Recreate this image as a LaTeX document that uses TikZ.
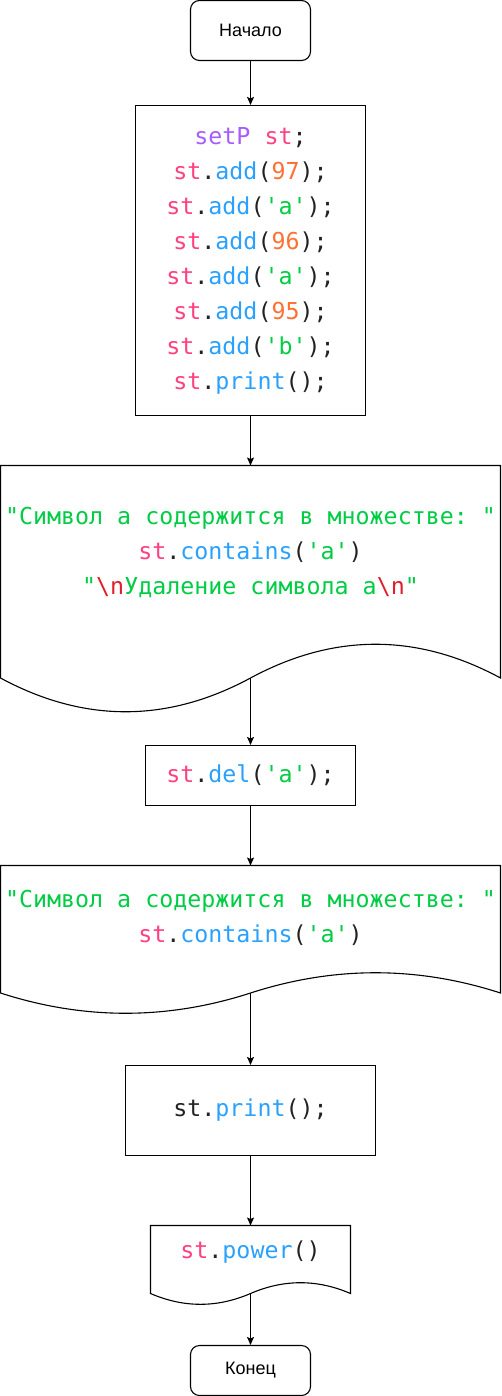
\documentclass[tikz,border=0pt]{standalone}
\usepackage{fontspec}
\setmainfont{Liberation Sans}
\setmonofont{DejaVu Sans Mono}
\usetikzlibrary{arrows.meta}

% syntax colours
\definecolor{cpink}{HTML}{FF4081}
\definecolor{cblue}{HTML}{2AA1FF}
\definecolor{corange}{HTML}{FF7033}
\definecolor{cgreen}{HTML}{00CC44}
\definecolor{cpurple}{HTML}{A85CFF}
\definecolor{cred}{HTML}{E0202C}
\definecolor{cdark}{HTML}{222222}

\newcommand{\kST}{\textcolor{cpink}{st}}
\newcommand{\kFN}[1]{\textcolor{cblue}{#1}}
\newcommand{\kNUM}[1]{\textcolor{corange}{#1}}
\newcommand{\kSTR}[1]{\textcolor{cgreen}{#1}}
\newcommand{\kESC}{\textcolor{cred}{\textbackslash n}}

% document (wavy-bottom) outline: x0, y0, width, height
\newcommand{\docshape}[4]{%
  \draw[line]
    (#1,#2) -- ({#1+#3},#2) -- ({#1+#3},{#2+0.85*#4})
    .. controls ({#1+#3*5/6},{#2+0.67*#4}) and ({#1+#3*4/6},{#2+0.67*#4}) .. ({#1+#3/2},{#2+0.85*#4})
    .. controls ({#1+#3/3},{#2+1.03*#4}) and ({#1+#3/6},{#2+1.03*#4}) .. (#1,{#2+0.85*#4})
    -- cycle;}

\begin{document}
\begin{tikzpicture}[x=1pt,y=-1pt,
  line/.style={draw=black,line width=1.1pt},
  terminal/.style={line,rounded corners=9pt,inner sep=0pt,
    font={\fontsize{18}{21}\selectfont}},
  procbox/.style={line,inner sep=0pt,align=center,
    font={\ttfamily\fontsize{23.3}{35}\selectfont}},
  codetext/.style={inner sep=0pt,align=center,
    font={\ttfamily\fontsize{23.3}{35}\selectfont}},
  arr/.style={line,-{Stealth[length=8pt,width=7pt,inset=1.5pt]}}]

\useasboundingbox (0,0) rectangle (501,1396);

% start
\node[terminal,minimum width=120pt,minimum height=60pt] (start) at (250.5,30.5) {Начало};

% declarations
\node[procbox,minimum width=230pt,minimum height=310pt,text=cdark] (init) at (250.5,260.5) {%
\textcolor{cpurple}{setP} \kST;\\
\kST.\kFN{add}(\kNUM{97});\\
\kST.\kFN{add}(\kSTR{'a'});\\
\kST.\kFN{add}(\kNUM{96});\\
\kST.\kFN{add}(\kSTR{'a'});\\
\kST.\kFN{add}(\kNUM{95});\\
\kST.\kFN{add}(\kSTR{'b'});\\
\kST.\kFN{print}();};

% first output
\docshape{0.5}{465.5}{500}{250}
\node[codetext,text=cdark] (out1) at (250.5,552) {%
\kSTR{"Символ а содержится в множестве: "}\\
\kST.\kFN{contains}(\kSTR{'a'})\\
\kSTR{"}\kESC\kSTR{Удаление символа а}\kESC\kSTR{"}};
\coordinate (out1end) at (250.5,678);

% delete
\node[procbox,minimum width=210pt,minimum height=60pt,text=cdark] (del) at (250.5,775.5) {%
\kST.\kFN{del}(\kSTR{'a'});};

% second output
\docshape{0.5}{865.5}{500}{150}
\node[codetext,text=cdark] (out2) at (250.5,917.5) {%
\kSTR{"Символ а содержится в множестве: "}\\
\kST.\kFN{contains}(\kSTR{'a'})};
\coordinate (out2end) at (250.5,993);

% print
\node[procbox,minimum width=250pt,minimum height=90pt,text=cdark] (prt) at (250.5,1110.5) {%
st.\kFN{print}();};

% power output
\docshape{150.5}{1225.5}{200}{80}
\node[codetext,text=cdark] (out3) at (250.5,1252) {%
\kST.\kFN{power}()};
\coordinate (out3end) at (250.5,1293.5);

% end
\node[terminal,minimum width=120pt,minimum height=50pt] (stop) at (250.5,1370.5) {Конец};

% connectors
\draw[arr] (start.south) -- (init.north);
\draw[arr] (init.south) -- (250.5,465.5);
\draw[arr] (out1end) -- (del.north);
\draw[arr] (del.south) -- (250.5,865.5);
\draw[arr] (out2end) -- (prt.north);
\draw[arr] (prt.south) -- (250.5,1225.5);
\draw[arr] (out3end) -- (stop.north);
\end{tikzpicture}
\end{document}
